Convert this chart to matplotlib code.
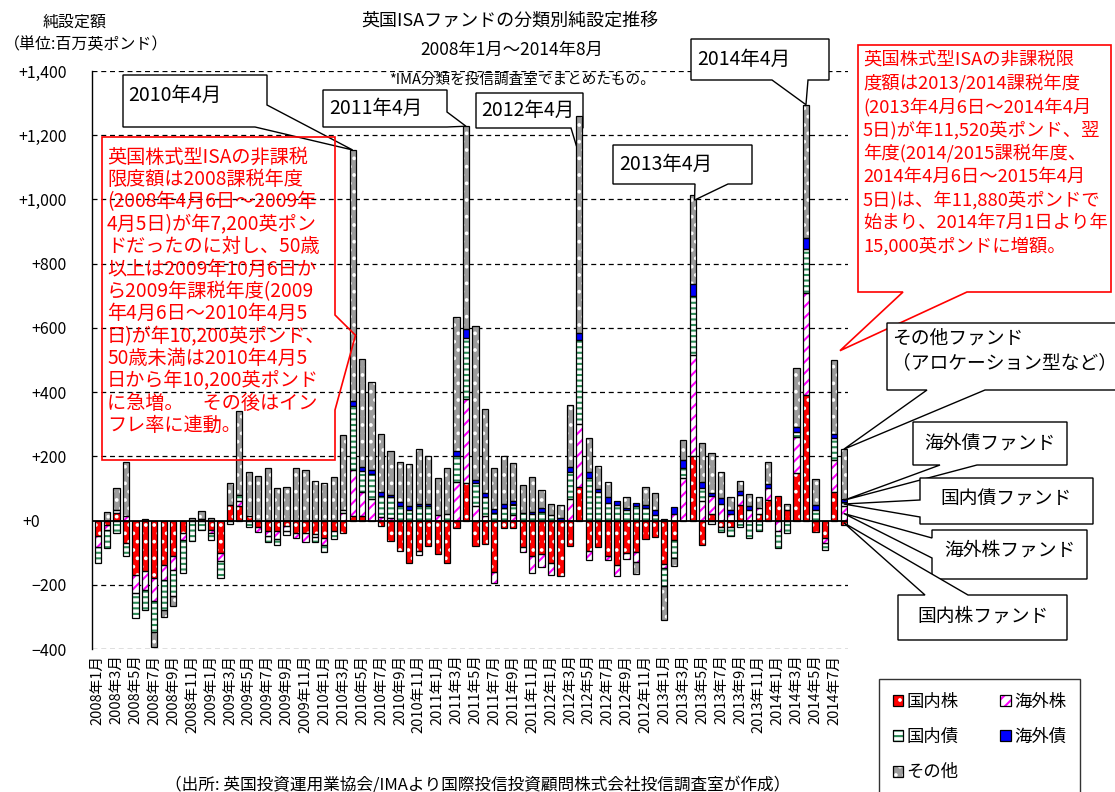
import numpy as np
import matplotlib

matplotlib.use("Agg")
import matplotlib.pyplot as plt
from matplotlib.patches import Patch, Polygon
from matplotlib.transforms import Affine2D, ScaledTranslation

plt.rcParams["font.family"] = ["Noto Sans CJK JP", "DejaVu Sans"]
plt.rcParams["hatch.linewidth"] = 1.5

W, H = 1115, 792

# monthly net sales, million GBP (2008-01 .. 2014-08)
months = [f"{y}年{m}月" for y in range(2008, 2015) for m in range(1, 13)][:80]

dom_equity = [
    -47, -15, 24, -70, -168, -158, -179, -137, -109, -38,
    0, 5, -28, -101, 50, 45, 13, -20, -32, -32,
    -17, -39, -39, -42, -55, -33, -39, 13, 13, 0,
    -17, -64, -94, -131, -94, -78, -105, -131, -22, 117,
    -78, -72, -161, -22, -22, -83, -111, -105, -133, -172,
    -80, 106, -94, -83, -111, -139, -100, -98, -58, -50,
    -135, -60, 0, 200, -75, 21, -20, -20, 50, 0,
    21, 63, 75, 32, 148, 390, -37, -54, 90, -14,
]
for_equity = [
    -35, -15, 8, 13, -57, -57, -73, -47, -44, -24,
    0, 0, -12, -26, 0, 15, 0, -15, -15, -25,
    -17, -15, -28, -10, -20, 0, 22, 144, 75, 67,
    10, 9, 0, 0, -14, 0, 17, 0, 120, 263,
    44, 13, -33, 0, 17, -14, -53, -39, -36, 0,
    67, 194, -28, 0, -11, -33, -20, -30, 0, 0,
    -14, 20, 133, 317, 61, 54, 52, 21, 29, 32,
    17, 38, -31, 0, 112, 319, 0, -17, 100, 44,
]
dom_bond = [
    -50, -55, -38, -40, -78, -62, -94, -94, -83, -101,
    -65, -30, -22, -52, -10, 20, -20, 0, -20, -18,
    -12, 0, 0, -15, -22, -25, 12, 200, 67, 78,
    65, 63, 44, 33, 44, 44, 0, 20, 82, 189,
    72, 59, 22, 40, 33, 22, 19, 28, 17, 0,
    83, 261, 133, 89, 56, 50, 33, 44, 39, 17,
    -55, -58, 32, 181, 40, -10, -17, -29, -20, -54,
    -33, 0, -55, -40, 15, 136, 32, -20, 67, 15,
]
for_bond = [
    0, 0, 0, 0, 0, 0, 0, 0, 0, 0,
    0, 0, 0, 0, 0, 0, 0, 0, 0, 0,
    0, 0, 0, 0, 0, 0, 0, 14, 11, 13,
    14, 8, 13, 11, 9, 9, 0, 0, 14, 26,
    11, 14, 13, 13, 11, 0, 9, 11, 0, 9,
    17, 22, 17, 9, 17, 11, 6, 11, 8, 17,
    5, 23, 23, 38, 20, 12, 17, 12, 12, 12,
    0, 12, 0, 0, 15, 35, 15, 0, 14, 8,
]
other = [
    0, 27, 68, 168, 0, 5, -47, -21, -29, 0,
    8, 25, 8, 0, 68, 260, 138, 140, 165, 100,
    105, 164, 158, 124, 117, 135, 233, 783, 336, 275,
    182, 137, 125, 131, 169, 147, 114, 144, 417, 633,
    478, 260, 129, 147, 117, 89, 108, 56, 36, 38,
    194, 678, 106, 71, 48, 0, 33, -37, 56, 53,
    -106, -23, 63, 277, 121, 122, 81, 40, 31, 38,
    35, 69, 0, 20, 184, 415, 83, 0, 228, 155,
]

series_names = ["国内株", "海外株", "国内債", "海外債", "その他"]
series_values = [dom_equity, for_equity, dom_bond, for_bond, other]
styles = [
    dict(face="#FF0000", hatchc="white", hatch=".."),
    dict(face="white", hatchc="#FF00FF", hatch="///"),
    dict(face="white", hatchc="#2E8B57", hatch="---"),
    dict(face="#0000FF", hatchc="#0000FF", hatch=None),
    dict(face="#9C9C9C", hatchc="white", hatch=".."),
]

yticks = np.arange(-400, 1401, 200)
ytick_labels = [("+" if v >= 0 else "\u2212") + f"{abs(v):,}" for v in yticks]

fig = plt.figure(figsize=(W / 100, H / 100), dpi=100)
ax = fig.add_axes([92 / W, 1 - 649 / H, 756 / W, 578 / H])
PX = Affine2D().scale(1 / W, -1 / H).translate(0, 1) + fig.transFigure

x = np.arange(len(months))
width = 0.66
pos_base = np.zeros(len(x))
neg_base = np.zeros(len(x))
seg_mid = {}
for name, vals, st in zip(series_names, series_values, styles):
    v = np.asarray(vals, dtype=float)
    seg_mid[name] = np.where(v >= 0, pos_base + v / 2, neg_base + v / 2)
    for mask, base in ((v > 0, pos_base), (v < 0, neg_base)):
        if not mask.any():
            continue
        ax.bar(x[mask], v[mask], width, bottom=base[mask], color=st["face"],
               edgecolor=st["hatchc"], hatch=st["hatch"], linewidth=0, zorder=3)
        ax.bar(x[mask], v[mask], width, bottom=base[mask], fill=False,
               edgecolor="black", linewidth=0.9, zorder=4)
        base[mask] += v[mask]
totals_pos = pos_base.copy()

ax.set_xlim(-0.6, len(x) - 0.55)
ax.set_ylim(-400, 1400)
for v in yticks:
    if v != 0:
        ax.axhline(v, color="black", lw=0.9, ls=(0, (4, 3)), zorder=1)
ax.axhline(0, color="black", lw=1.3, zorder=5)
ax.set_yticks(yticks)
ax.set_yticklabels(ytick_labels, fontsize=11.5)
ax.set_xticks(x[::2])
ax.set_xticklabels(months[::2], rotation=90, fontsize=10.5, va="top", ha="center")
ax.tick_params(axis="both", length=0)
ax.tick_params(axis="y", pad=18)
ax.tick_params(axis="x", pad=4)
for side in ("top", "right", "bottom"):
    ax.spines[side].set_visible(False)
ax.spines["left"].set_linewidth(1.0)
# the "+0" label sits further left in the original
zero_lab = ax.get_yticklabels()[list(yticks).index(0)]
zero_lab.set_transform(zero_lab.get_transform() + ScaledTranslation(-0.27, 0, fig.dpi_scale_trans))


def to_px(i, val):
    disp = ax.transData.transform((i, val))
    return tuple(PX.inverted().transform(disp))


def callout(before, tip, after, edge="black", face="white", lw=1.0, z=6):
    verts = list(before) + [tip] + list(after)
    ax.add_patch(Polygon(verts, closed=True, facecolor=face, edgecolor=edge,
                         linewidth=lw, transform=PX, clip_on=False, zorder=z))


def label(xp, yp, s, size=13, color="black", ha="left", z=7):
    ax.text(xp, yp, s, transform=PX, fontsize=size, color=color, ha=ha,
            va="center", clip_on=False, zorder=z)


# month callouts
callout([(123, 75), (267, 75), (267, 105)], to_px(27, totals_pos[27]), [(255, 127), (123, 127)])
label(128, 95, "2010年4月", 14)
callout([(323, 90), (447, 90), (447, 112)], to_px(39, totals_pos[39]), [(447, 127), (323, 127)])
label(329, 108, "2011年4月", 14)
callout([(476, 93), (583, 93), (583, 128), (582, 128)], to_px(50.7, totals_pos[51] - 95),
        [(571, 128), (476, 128)], z=2)
label(481, 110, "2012年4月", 14, z=2)
callout([(613, 145), (752, 145), (752, 184), (728, 184)], to_px(63.2, totals_pos[63] - 15),
        [(695, 184), (613, 184)])
label(619, 164, "2013年4月", 14)
callout([(691, 39), (829, 39), (829, 80), (808, 80)], to_px(75, totals_pos[75]),
        [(772, 80), (691, 80)])
label(697, 59, "2014年4月", 14)

# red note boxes
callout([(102, 137), (335, 137), (335, 315)], to_px(27.3, totals_pos[27] / 2),
        [(335, 410), (335, 460), (102, 460)], edge="#FF0000", face="none", lw=1.2)
left_note = [
    "英国株式型ISAの非課税", "限度額は2008課税年度", "(2008年4月6日～2009年",
    "4月5日)が年7,200英ポン", "ドだったのに対し、50歳", "以上は2009年10月6日か",
    "ら2009年課税年度(2009", "年4月6日～2010年4月5", "日)が年10,200英ポンド、",
    "50歳未満は2010年4月5", "日から年10,200英ポンド", "に急増。　その後はイン",
    "フレ率に連動。",
]
for k, line in enumerate(left_note):
    label(107, 157 + 22.4 * k, line, 13.8, color="#FF0000")

callout([(858, 45), (1111, 45), (1111, 292), (967, 292)], to_px(78.6, totals_pos[78] + 30),
        [(903, 292), (858, 292)], edge="#FF0000", lw=1.2)
right_note = [
    "英国株式型ISAの非課税限", "度額は2013/2014課税年度", "(2013年4月6日～2014年4月",
    "5日)が年11,520英ポンド、翌", "年度(2014/2015課税年度、", "2014年4月6日～2015年4月",
    "5日)は、年11,880英ポンドで", "始まり、2014年7月1日より年", "15,000英ポンドに増額。",
]
for k, line in enumerate(right_note):
    label(863, 60 + 23.3 * k, line, 13.2, color="#FF0000")

# fund type callouts pointing at the last bar
last = len(x) - 1
callout([(887, 323), (1125, 323), (1125, 390), (985, 390)], to_px(last, totals_pos[last]),
        [(927, 390), (887, 390)])
label(892, 338, "その他ファンド", 13.5)
label(892, 363, "（アロケーション型など）", 13.5)
callout([(913, 422), (1067, 422), (1067, 465), (977, 465)], to_px(last, seg_mid["海外債"][last]),
        [(940, 465), (913, 465)])
label(990, 443, "海外債ファンド", 13.5, ha="center")
callout([(920, 478), (1093, 478), (1093, 524), (920, 524), (920, 517)],
        to_px(last, seg_mid["国内債"][last]), [(920, 500)])
label(1006, 499, "国内債ファンド", 13.5, ha="center")
callout([(932, 530), (1087, 530), (1087, 579), (932, 579), (932, 558)],
        to_px(last, seg_mid["海外株"][last]), [(932, 538)])
label(1010, 550, "海外株ファンド", 13.5, ha="center")
callout([(898, 595), (925, 595)], to_px(last, seg_mid["国内株"][last]),
        [(968, 595), (1067, 595), (1067, 640), (898, 640)])
label(983, 616, "国内株ファンド", 13.5, ha="center")

# titles and notes
label(75, 22, "純設定額", 11.5, ha="center")
label(86, 45, "（単位:百万英ポンド）", 11.5, ha="center")
label(510, 22, "英国ISAファンドの分類別純設定推移", 13, ha="center")
label(512, 50, "2008年1月～2014年8月", 12.5, ha="center")
label(522, 80, "*IMA分類を投信調査室でまとめたもの。", 10.5, ha="center")
label(478, 785, "（出所: 英国投資運用業協会/IMAより国際投信投資顧問株式会社投信調査室が作成）", 12, ha="center")

handles = [(Patch(facecolor=st["face"], edgecolor=st["hatchc"], hatch=st["hatch"], linewidth=0),
            Patch(fill=False, edgecolor="black", linewidth=0.9)) for st in styles]
order = [0, 2, 4, 1, 3]
leg = fig.legend([handles[i] for i in order], [series_names[i] for i in order], ncol=2,
                 loc="upper left", bbox_to_anchor=(870 / W, 1 - 670 / H), fontsize=12.5,
                 frameon=True, fancybox=False, edgecolor="black", handlelength=0.6,
                 handleheight=0.6, handletextpad=0.2, columnspacing=2.4, labelspacing=1.0,
                 borderpad=0.8)
leg.get_frame().set_linewidth(1.0)

fig.savefig("out.png", dpi=100)
